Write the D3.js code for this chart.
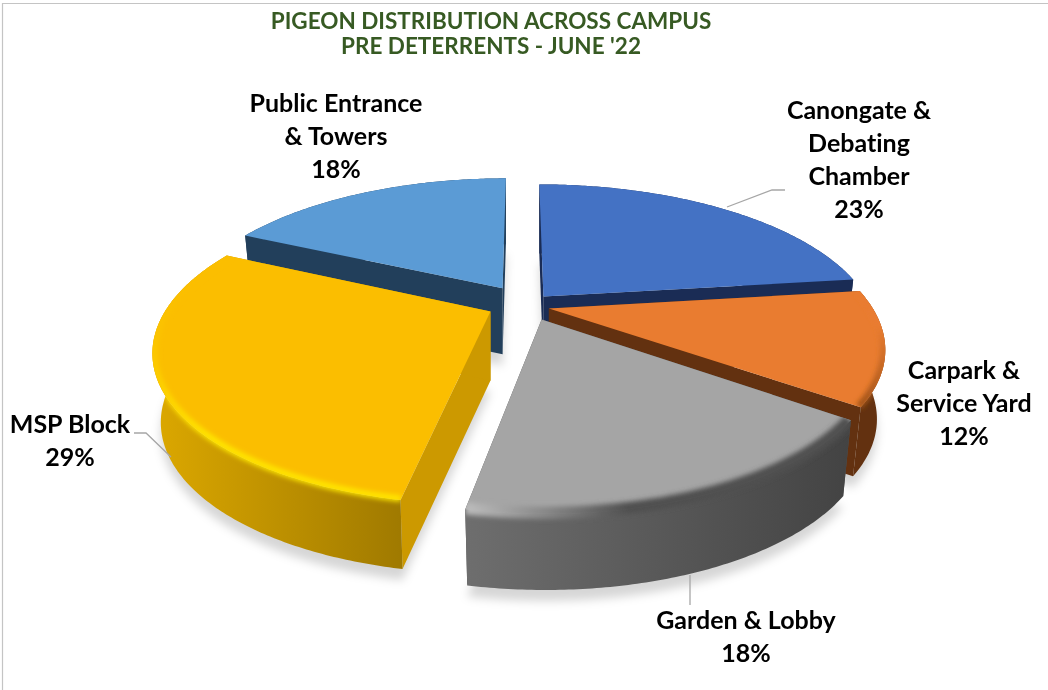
<!DOCTYPE html>
<html>
<head>
<meta charset="utf-8">
<script src="https://d3js.org/d3.v7.min.js"></script>
<style>
  html, body { margin: 0; padding: 0; background: #fff; }
  svg { display: block; }
  text { font-family: Lato, "Noto Sans", sans-serif; font-variant-ligatures: none; }
</style>
</head>
<body>
<div id="chart"></div>
<script>
// chart values
const categories = ["Canongate & Debating Chamber", "Carpark & Service Yard", "Garden & Lobby", "MSP Block", "Public Entrance & Towers"];
const percents = [23, 12, 18, 29, 18];
const titleLines = ["PIGEON DISTRIBUTION ACROSS CAMPUS", "PRE DETERRENTS - JUNE '22"];

// colours, same order as categories
const topColors = ["#4472c4", "#e97c30", "#a5a5a5", "#fbbe00", "#5b9bd5"];
const faceColors = ["#1a2c55", "#633110", "#555555", "#cc9900", "#223f5b"];
const rimLeft = ["#1a2c55", "#633110", "#6e6e6e", "#dca800", "#223f5b"];
const rimRight = ["#1a2c55", "#633110", "#434343", "#a07a00", "#223f5b"];
// bevel colour at the start and the end of each slice's arc
const bevelStart = [null, "#e97c30", "#505050", "#ffe800", null];
const bevelEnd = [null, "#9a4f16", "#bdbdbd", "#fbbe00", null];
const bevelFrom = [0, 0.3, 0.6, 0.55, 0];
const bevelWidth = [0, 7, 12, 6, 0];

// label layout, wrapped like the original
const labelLines = [
    ["Canongate &", "Debating", "Chamber", "23%"],
    ["Carpark &", "Service Yard", "12%"],
    ["Garden & Lobby", "18%"],
    ["MSP Block", "29%"],
    ["Public Entrance", "& Towers", "18%"]
];
const labelX = [859, 964, 746, 70, 336];
const labelY = [119, 379, 629, 433, 112];
const leaders = [
    [[727, 207], [772, 190], [785, 190]],
    [[690, 575], [690, 605]],
    [[171, 457], [146, 433], [134, 433]]
];

const width = 1048, height = 690;
const cx = 519.5, cy = 305;        // centre of the pie on screen
const scaleX = 322, scaleY = 142;  // world unit to pixels
const persp = 0.245;               // things closer to the viewer get bigger
const explode = 0.1;
const taper = 0.975;               // the underside is a little narrower
// small per slice corrections
const depth = [69, 69, 76, 69, 66];
const radius = [1.02, 1, 0.985, 1, 1];
const nudgeX = [3, -2, 10, 0, 0];
const nudgeY = [2, 0, 1, 0, -5];

const svg = d3.select("#chart").append("svg")
    .attr("width", width)
    .attr("height", height);
const defs = svg.append("defs");

defs.append("filter").attr("id", "shadowBlur")
    .attr("x", "-20%").attr("y", "-20%").attr("width", "140%").attr("height", "140%")
    .append("feGaussianBlur").attr("stdDeviation", 5);
defs.append("filter").attr("id", "bevelBlur")
    .attr("filterUnits", "userSpaceOnUse")
    .attr("x", 0).attr("y", 0).attr("width", width).attr("height", height)
    .append("feGaussianBlur").attr("stdDeviation", 2.6);

const line = d3.line();
const closed = pts => line(pts) + "Z";

// frame, only top and left show
svg.append("path")
    .attr("d", line([[2.5, height], [2.5, 3.5], [width, 3.5]]))
    .attr("fill", "none")
    .attr("stroke", "#c4c4c4")
    .attr("stroke-width", 1.2);

// world (x right, y toward viewer, z down) to screen
const project = (x, y, z) => {
    const w = 1 / (1 - persp * y);
    return [cx + scaleX * x * w, cy + scaleY * y * w + z];
};

const pie = d3.pie().sort(null)(percents);

const slices = pie.map((d, i) => {
    const mid = (d.startAngle + d.endAngle) / 2;
    const ox = explode * Math.sin(mid), oy = -explode * Math.cos(mid);
    const steps = Math.ceil((d.endAngle - d.startAngle) * 90);
    const angles = d3.range(steps + 1).map(k => d.startAngle + (d.endAngle - d.startAngle) * k / steps);
    const nudge = p => [p[0] + nudgeX[i], p[1] + nudgeY[i]];
    const arcAt = (rx, ry, z) => angles.map(t => nudge(project(ox + radius[i] * rx * Math.sin(t), oy - radius[i] * ry * Math.cos(t), z * depth[i])));
    return { i, apex: z => nudge(project(ox, oy, z * depth[i])), arcAt };
});

// back to front
const drawOrder = [4, 0, 1, 3, 2];

// soft shadow on the floor
const shadows = svg.append("g").attr("filter", "url(#shadowBlur)").attr("transform", "translate(0,11)");
drawOrder.forEach(i => {
    const s = slices[i];
    shadows.append("path")
        .attr("d", closed([s.apex(1), ...s.arcAt(taper, 1, 1)]))
        .attr("fill", "#000")
        .attr("opacity", 0.16);
});

drawOrder.forEach(i => {
    const s = slices[i];
    const topArc = s.arcAt(1, 1, 0), botArc = s.arcAt(taper, 1, 1);
    const g = svg.append("g");

    // the two cut faces
    [0, topArc.length - 1].forEach(k => {
        g.append("path")
            .attr("d", closed([s.apex(0), topArc[k], botArc[k], s.apex(1)]))
            .attr("fill", faceColors[i]);
    });

    // outer rim with a left to right shade, stacked in thin bands so the edge stays smooth
    const xs = topArc.map(p => p[0]);
    const grad = defs.append("linearGradient")
        .attr("id", "rim" + i)
        .attr("gradientUnits", "userSpaceOnUse")
        .attr("x1", d3.min(xs)).attr("x2", d3.max(xs))
        .attr("y1", 0).attr("y2", 0);
    grad.append("stop").attr("offset", 0).attr("stop-color", rimLeft[i]);
    grad.append("stop").attr("offset", 1).attr("stop-color", rimRight[i]);
    const bands = 16;
    const rimPath = d3.range(bands).map(k => {
        const z0 = k / bands, z1 = (k + 1) / bands;
        const a = s.arcAt(1 + (taper - 1) * z0, 1, z0);
        const b = s.arcAt(1 + (taper - 1) * z1, 1, z1);
        return closed([...a, ...b.reverse()]);
    }).join("");
    g.append("path")
        .attr("d", rimPath)
        .attr("fill", "url(#rim" + i + ")");

    // top
    g.append("path")
        .attr("d", closed([s.apex(0), ...topArc]))
        .attr("fill", topColors[i]);

    // bevel along the front edge, kept inside top and rim
    if (bevelStart[i]) {
        const first = topArc[0], last = topArc[topArc.length - 1];
        const bevelGrad = defs.append("linearGradient")
            .attr("id", "bevel" + i)
            .attr("gradientUnits", "userSpaceOnUse")
            .attr("x1", first[0]).attr("y1", first[1])
            .attr("x2", last[0]).attr("y2", last[1]);
        bevelGrad.append("stop").attr("offset", bevelFrom[i]).attr("stop-color", bevelStart[i]);
        bevelGrad.append("stop").attr("offset", 1).attr("stop-color", bevelEnd[i]);
        defs.append("clipPath").attr("id", "clip" + i)
            .append("path")
            .attr("d", rimPath + closed([s.apex(0), ...topArc]));
        g.append("g").attr("clip-path", "url(#clip" + i + ")")
            .append("path")
            .attr("d", line(s.arcAt(0.995, 0.995, 0)))
            .attr("fill", "none")
            .attr("stroke", "url(#bevel" + i + ")")
            .attr("stroke-width", bevelWidth[i])
            .attr("filter", "url(#bevelBlur)");
    }
});

// leader lines
svg.selectAll("path.leader").data(leaders).enter().append("path")
    .attr("class", "leader")
    .attr("d", d => line(d))
    .attr("fill", "none")
    .attr("stroke", "#a6a6a6")
    .attr("stroke-width", 1.3);

// data labels
labelLines.forEach((lines, i) => {
    svg.append("text")
        .attr("text-anchor", "middle")
        .attr("font-weight", 700)
        .attr("font-size", 25)
        .attr("fill", "#000")
        .selectAll("tspan").data(lines).enter().append("tspan")
        .attr("x", labelX[i])
        .attr("y", (d, k) => labelY[i] + k * 33)
        .text(d => d);
});

// title
svg.selectAll("text.title").data(titleLines).enter().append("text")
    .attr("class", "title")
    .attr("x", 491)
    .attr("y", (d, k) => 28.5 + k * 25)
    .attr("text-anchor", "middle")
    .attr("font-size", 22.5)
    .attr("font-weight", 700)
    .attr("fill", "#375a23")
    .text(d => d);
</script>
</body>
</html>
